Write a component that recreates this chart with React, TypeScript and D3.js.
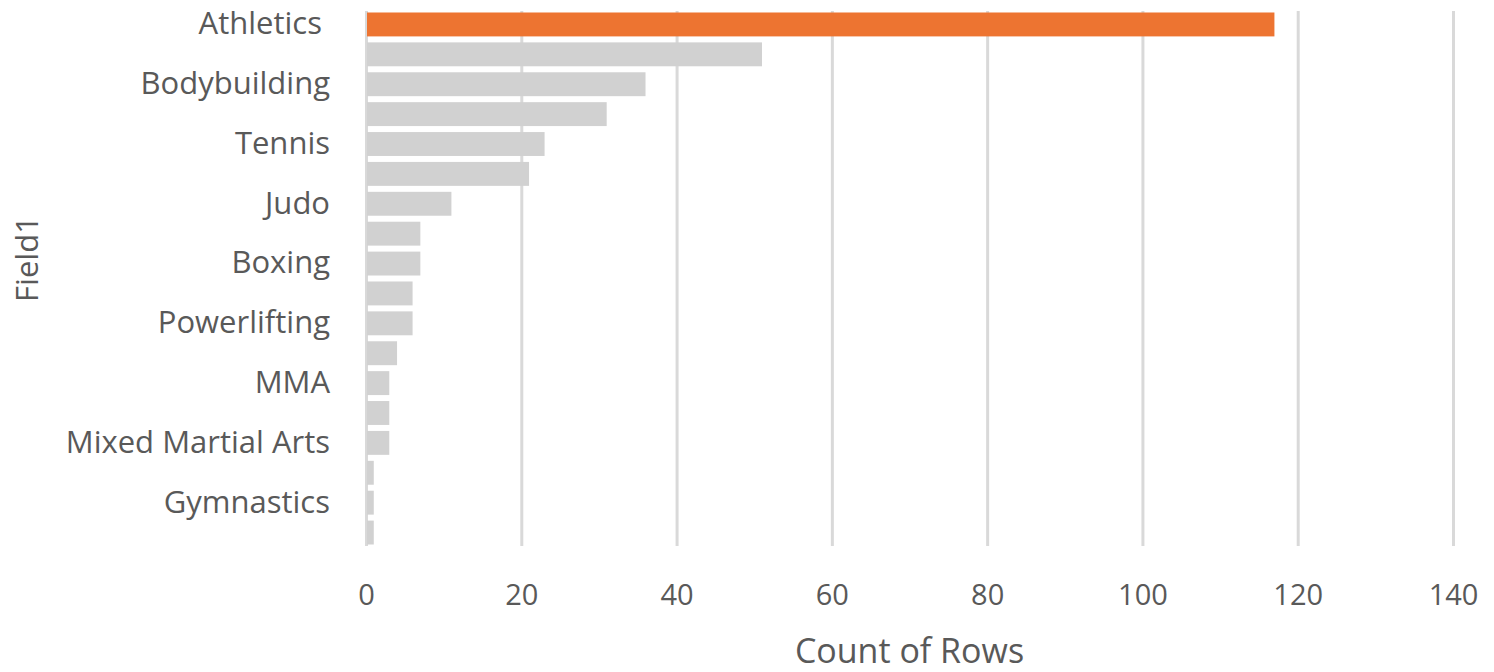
import { useEffect, useRef } from "react";
import * as d3 from "d3";

// categories from top to bottom (only every other label is shown on the axis)
const categories = [
  "Athletics ", "", "Bodybuilding", "", "Tennis", "", "Judo", "", "Boxing", "",
  "Powerlifting", "", "MMA", "", "Mixed Martial Arts", "", "Gymnastics", "",
];
const counts = [117, 51, 36, 31, 23, 21, 11, 7, 7, 6, 6, 4, 3, 3, 3, 1, 1, 1];
const xTicks = [0, 20, 40, 60, 80, 100, 120, 140];
const highlightIndex = 0;

export default function App() {
  const svgRef = useRef<SVGSVGElement | null>(null);

  useEffect(() => {
    const width = 1494;
    const height = 672;
    const margin = { top: 11, right: 41, bottom: 126, left: 366 };
    const font = "'Open Sans', sans-serif";
    const textColor = "#595959";

    const svg = d3.select(svgRef.current)
      .attr("width", width)
      .attr("height", height)
      .style("background", "#ffffff");

    svg.selectAll("*").remove();

    const x = d3.scaleLinear()
      .domain([0, 140])
      .range([margin.left, width - margin.right]);

    const y = d3.scaleBand<number>()
      .domain(d3.range(counts.length))
      .range([margin.top, height - margin.bottom])
      .paddingInner(0.2)
      .paddingOuter(0.05);

    const plotBottom = height - margin.bottom;

    // x axis with vertical gridlines
    const xAxis = svg.append("g")
      .attr("transform", `translate(0, ${plotBottom})`)
      .call(d3.axisBottom(x)
        .tickValues(xTicks)
        .tickSizeInner(-(plotBottom - margin.top))
        .tickSizeOuter(0)
        .tickPadding(38));

    xAxis.select(".domain").remove();
    xAxis.selectAll(".tick line")
      .attr("stroke", "#d9d9d9")
      .attr("stroke-width", 3);
    xAxis.selectAll(".tick text")
      .attr("fill", textColor)
      .style("font-family", font)
      .style("font-size", "29px");

    // bars
    svg.append("g")
      .selectAll("rect")
      .data(counts)
      .join("rect")
      .attr("x", x(0) + 1)
      .attr("y", (_, i) => y(i) as number)
      .attr("width", d => x(d) - x(0) - 1)
      .attr("height", y.bandwidth())
      .attr("fill", (_, i) => (i === highlightIndex ? "#ed7431" : "#d1d1d1"));

    // category axis
    const yAxis = svg.append("g")
      .attr("transform", `translate(${margin.left}, 0)`)
      .call(d3.axisLeft(y)
        .tickFormat(i => categories[i as number])
        .tickSize(0)
        .tickPadding(36));

    yAxis.select(".domain").remove();
    yAxis.selectAll(".tick text")
      .attr("fill", textColor)
      .style("white-space", "pre")
      .style("font-family", font)
      .style("font-size", "31px");

    // axis titles
    svg.append("text")
      .attr("x", (x(0) + x(140)) / 2)
      .attr("y", 663)
      .attr("text-anchor", "middle")
      .attr("fill", textColor)
      .style("font-family", font)
      .style("font-size", "34px")
      .text("Count of Rows");

    svg.append("text")
      .attr("transform", "translate(38, 259) rotate(-90)")
      .attr("text-anchor", "middle")
      .attr("fill", textColor)
      .style("font-family", font)
      .style("font-size", "31px")
      .text("Field1");
  }, []);

  return (
    <svg
      ref={svgRef}
      style={{ position: "absolute", left: 0, top: 0, display: "block" }}
    ></svg>
  );
}
